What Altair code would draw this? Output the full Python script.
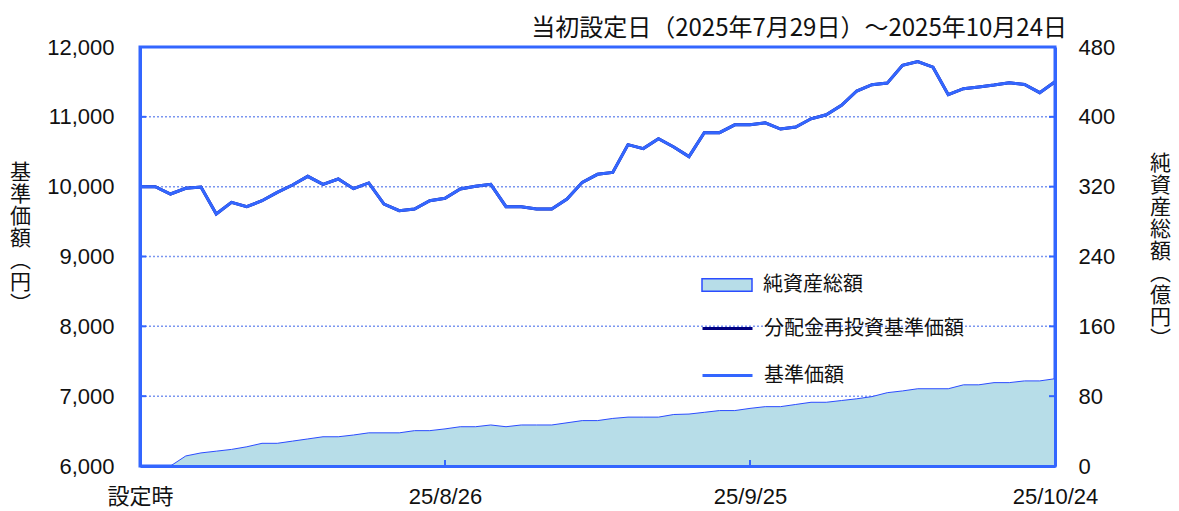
import altair as alt
import pandas as pd

# ---- data ----
nav = [10000, 10000, 9895, 9976, 9995, 9608, 9775, 9713, 9799, 9919,
       10024, 10148, 10033, 10110, 9971, 10053, 9751, 9656, 9680, 9799,
       9833, 9967, 10005, 10033, 9713, 9713, 9680, 9680, 9823, 10062,
       10177, 10204, 10602, 10545, 10687, 10569, 10431, 10773, 10773, 10886,
       10886, 10915, 10825, 10853, 10972, 11030, 11166, 11370, 11460, 11483,
       11739, 11792, 11711, 11318, 11403, 11427, 11455, 11488, 11464, 11346,
       11502]
# distribution-reinvested NAV coincides with NAV (hidden under it)
nav_reinvest = [10000, 10000, 9895, 9976, 9995, 9608, 9775, 9713, 9799, 9919,
                10024, 10148, 10033, 10110, 9971, 10053, 9751, 9656, 9680, 9799,
                9833, 9967, 10005, 10033, 9713, 9713, 9680, 9680, 9823, 10062,
                10177, 10204, 10602, 10545, 10687, 10569, 10431, 10773, 10773, 10886,
                10886, 10915, 10825, 10853, 10972, 11030, 11166, 11370, 11460, 11483,
                11739, 11792, 11711, 11318, 11403, 11427, 11455, 11488, 11464, 11346,
                11502]
aum = [0, 0, 0, 11.5, 15, 17, 19, 22, 26, 26,
       28.5, 31, 33.5, 33.5, 35.5, 38, 38, 38, 40.5, 40.5,
       42.5, 45, 45, 47, 45, 47, 47, 47, 49.5, 52,
       52, 54.5, 56, 56, 56, 59, 59.5, 61.5, 63.5, 63.5,
       66, 68, 68, 70.5, 73, 73, 75, 77, 79.5, 84,
       86, 88.5, 88.5, 88.5, 93, 93, 95.5, 95.5, 97.5, 97.5,
       100]

x_tick_pos = [0, 20, 40, 60]
x_tick_labels = ["設定時", "25/8/26", "25/9/25", "25/10/24"]
left_ticks = [6000, 7000, 8000, 9000, 10000, 11000, 12000]
right_ticks = [0, 80, 160, 240, 320, 400, 480]
grid_right = [80, 160, 240, 320, 400]
inner_left_ticks = [7000, 8000, 9000, 10000, 11000]
inner_x_ticks = [20, 40]

series_names = ["純資産総額", "分配金再投資基準価額", "基準価額"]
title_text = "当初設定日（2025年7月29日）～2025年10月24日"
left_title = ["基", "準", "価", "額", "︵", "円", "︶"]
right_title = ["純", "資", "産", "総", "額", "︵", "億", "円", "︶"]

# ---- style ----
BLUE = "#3366ff"
NAVY = "#000080"
FILL = "#b7dde8"
AREA_STROKE = "#2b4cff"
GRID = "#7b96f0"
TXT = "#111111"
FONT_NUM = "Liberation Sans, Noto Sans CJK JP, sans-serif"
FONT_JP = "Noto Sans CJK JP, sans-serif"
TOTAL_W, H = 1163, 419

idx = list(range(len(nav)))
df_aum = pd.DataFrame({"i": idx, "aum": aum, "series": series_names[0]})
df_re = pd.DataFrame({"i": idx, "v": nav_reinvest, "series": series_names[1]})
df_nav = pd.DataFrame({"i": idx, "v": nav, "series": series_names[2]})
df_grid = pd.DataFrame({"aum": grid_right})
df_lt = pd.DataFrame({"v": inner_left_ticks,
                      "i": [x_tick_pos[0]] * len(inner_left_ticks),
                      "j": [x_tick_pos[-1]] * len(inner_left_ticks)})
df_xt = pd.DataFrame({"i": inner_x_ticks})

label_expr = ("[" + ",".join("'%s'" % s for s in x_tick_labels) + "]"
              + "[indexof([" + ",".join(str(p) for p in x_tick_pos) + "], datum.value)]")

x_axis = alt.Axis(values=x_tick_pos, labelExpr=label_expr, title=None, ticks=False,
                  grid=False, domainColor=BLUE, domainWidth=3, labelFont=FONT_NUM,
                  labelFontSize=22, labelPadding=20, labelFlush=False, labelColor=TXT,
                  labelOverlap=False, zindex=1)
x_scale = alt.Scale(domain=[x_tick_pos[0], x_tick_pos[-1]], nice=False, zero=False)


def xenc(field="i"):
    return alt.X(field + ":Q", scale=x_scale, axis=x_axis)


left_axis = alt.Axis(values=left_ticks, format=",.0f", title=left_title, titleAngle=0,
                     titleX=-120, titleY=125, titleAlign="center", titleBaseline="middle",
                     titleLineHeight=22, titleFont=FONT_JP, titleFontSize=21,
                     titleFontWeight="normal", titleColor=TXT, labelFont=FONT_NUM,
                     labelFontSize=22, labelPadding=26, labelColor=TXT, ticks=False,
                     grid=False, domainColor=BLUE, domainWidth=3, zindex=1)
right_axis = alt.Axis(orient="right", values=right_ticks, format=".0f", title=right_title,
                      titleAngle=0, titleX=105, titleY=116, titleAlign="center",
                      titleBaseline="middle", titleLineHeight=22, titleFont=FONT_JP,
                      titleFontSize=21, titleFontWeight="normal", titleColor=TXT,
                      labelFont=FONT_NUM, labelFontSize=22, labelPadding=23,
                      labelColor=TXT, ticks=False, grid=False, domainColor=BLUE,
                      domainWidth=3, zindex=1)
yl_scale = alt.Scale(domain=[left_ticks[0], left_ticks[-1]], nice=False, zero=False)
yr_scale = alt.Scale(domain=[right_ticks[0], right_ticks[-1]], nice=False, zero=True)


def ylenc():
    return alt.Y("v:Q", scale=yl_scale, axis=left_axis)


def yrenc():
    return alt.Y("aum:Q", scale=yr_scale, axis=right_axis)


# ---- right-scale group: grid + area ----
grid = alt.Chart(df_grid).mark_rule(stroke=GRID, strokeDash=[2, 2], strokeWidth=1.5).encode(
    y=yrenc())
area = alt.Chart(df_aum).mark_area(stroke=AREA_STROKE, strokeWidth=1, opacity=1).encode(
    x=xenc(), y=yrenc(),
    fill=alt.Fill("series:N", scale=alt.Scale(domain=[series_names[0]], range=[FILL]),
                  legend=alt.Legend(title=None, orient="none", legendX=561, legendY=212,
                                    symbolType="M-1,-0.25H1V0.25H-1Z", symbolSize=2500,
                                    symbolStrokeColor=AREA_STROKE, symbolStrokeWidth=1.5,
                                    symbolOpacity=1, labelFont=FONT_JP, labelFontSize=20,
                                    labelOffset=10, labelColor=TXT, labelLimit=0,
                                    padding=0)))
right_group = alt.layer(grid, area)

# ---- left-scale group: lines + inward ticks ----
stroke_scale = alt.Scale(domain=[series_names[1], series_names[2]], range=[NAVY, BLUE])
stroke_legend = alt.Legend(title=None, orient="none", legendX=561, legendY=255,
                           symbolType="stroke", symbolSize=2500, symbolStrokeWidth=3,
                           rowPadding=10, labelFont=FONT_JP, labelFontSize=20,
                           labelOffset=10, labelColor=TXT, labelLimit=0, padding=0)
re_line = alt.Chart(df_re).mark_line(strokeWidth=3).encode(
    x=xenc(), y=ylenc(), stroke=alt.Stroke("series:N", scale=stroke_scale, legend=stroke_legend))
nav_line = alt.Chart(df_nav).mark_line(strokeWidth=3).encode(
    x=xenc(), y=ylenc(), stroke=alt.Stroke("series:N", scale=stroke_scale, legend=stroke_legend))
lticks = alt.Chart(df_lt).mark_rule(stroke=BLUE, strokeWidth=2, x2Offset=6).encode(
    y=ylenc(), x=xenc("i"), x2=alt.X2("i:Q"))
rticks = alt.Chart(df_lt).mark_rule(stroke=BLUE, strokeWidth=2, xOffset=-6).encode(
    y=ylenc(), x=xenc("j"), x2=alt.X2("j:Q"))
xticks = alt.Chart(df_xt).mark_rule(stroke=BLUE, strokeWidth=2).encode(
    x=xenc(), y=alt.value(H - 6), y2=alt.value(H))
left_group = alt.layer(re_line, nav_line, lticks, rticks, xticks)

chart = alt.layer(right_group, left_group).resolve_scale(y="independent").properties(
    width=TOTAL_W, height=H,
    autosize=alt.AutoSizeParams(type="fit-x", contains="padding"),
    padding={"left": 1, "top": 9, "right": 0, "bottom": 0},
    title=alt.TitleParams(title_text, anchor="end", fontSize=24, font=FONT_JP,
                          fontWeight="normal", color=TXT, offset=-5, dx=12, frame="group"),
).configure_view(stroke=BLUE, strokeWidth=3)

chart.save("out.html", embed_options={"renderer": "svg", "actions": False})
